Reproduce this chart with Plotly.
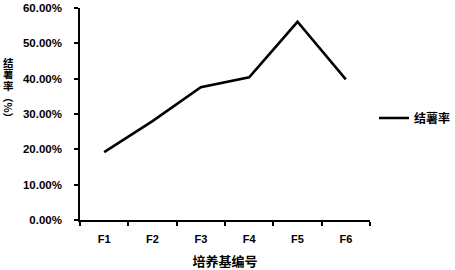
import plotly.graph_objects as go

categories = ["F1", "F2", "F3", "F4", "F5", "F6"]
values = [0.192, 0.280, 0.376, 0.404, 0.561, 0.398]
series_name = "结薯率"
y_ticks = [0, 0.1, 0.2, 0.3, 0.4, 0.5, 0.6]
y_tick_labels = ["0.00%", "10.00%", "20.00%", "30.00%", "40.00%", "50.00%", "60.00%"]
y_title_chars = ["结", "薯", "率"]

fig = go.Figure()
fig.add_trace(go.Scatter(
    x=categories, y=values, mode="lines", name=series_name,
    line=dict(color="black", width=2.6),
))

font_latin = "Liberation Sans, Arial, sans-serif"
font_cjk = "Noto Sans CJK SC, sans-serif"

# plot area: x 80..370, y 8..220 (pixels)
def px_x(x):
    return (x - 80) / 290

def px_y(y):
    return (220 - y) / 212

annotations = []
for i, ch in enumerate(y_title_chars):
    annotations.append(dict(
        text=ch, xref="paper", yref="paper", x=px_x(8), y=px_y(62 + 11.5 * i),
        xanchor="center", yanchor="middle", showarrow=False,
        font=dict(family=font_cjk, size=10.5, color="black", weight="bold")))
annotations.append(dict(
    text="（%）", xref="paper", yref="paper", x=px_x(8), y=px_y(107),
    xanchor="center", yanchor="middle", showarrow=False, textangle=90,
    font=dict(family=font_cjk, size=10.5, color="black", weight="bold")))

fig.update_layout(
    width=455, height=270,
    margin=dict(l=80, r=85, t=8, b=50, autoexpand=False),
    paper_bgcolor="white", plot_bgcolor="white",
    showlegend=True,
    legend=dict(x=px_x(374), y=px_y(118), xanchor="left", yanchor="middle",
                font=dict(family=font_cjk, size=12, color="black", weight="bold"),
                bgcolor="rgba(0,0,0,0)"),
    xaxis=dict(
        type="category", tickson="boundaries", ticks="outside", ticklen=4,
        tickwidth=1.5, tickcolor="black", automargin=False, ticklabelstandoff=8,
        showline=True, linecolor="black", linewidth=1.5, showgrid=False,
        tickfont=dict(family=font_latin, size=11, color="black", weight="bold"),
        title=dict(text="培养基编号", font=dict(family=font_cjk, size=13, color="black", weight="bold"), standoff=13),
        range=[-0.5, 5.5],
    ),
    yaxis=dict(
        range=[0, 0.6], tickvals=y_ticks, ticktext=y_tick_labels, automargin=False,
        ticks="outside", ticklen=4, tickwidth=1.5, tickcolor="black", ticklabelstandoff=10,
        showline=True, linecolor="black", linewidth=1.5, showgrid=False, zeroline=False,
        tickfont=dict(family=font_latin, size=11.5, color="black", weight="bold"),
    ),
    annotations=annotations,
)

fig.write_html("out.html", config={"displayModeBar": False},
               post_script="document.body.style.margin='0';document.body.style.padding='0';")
